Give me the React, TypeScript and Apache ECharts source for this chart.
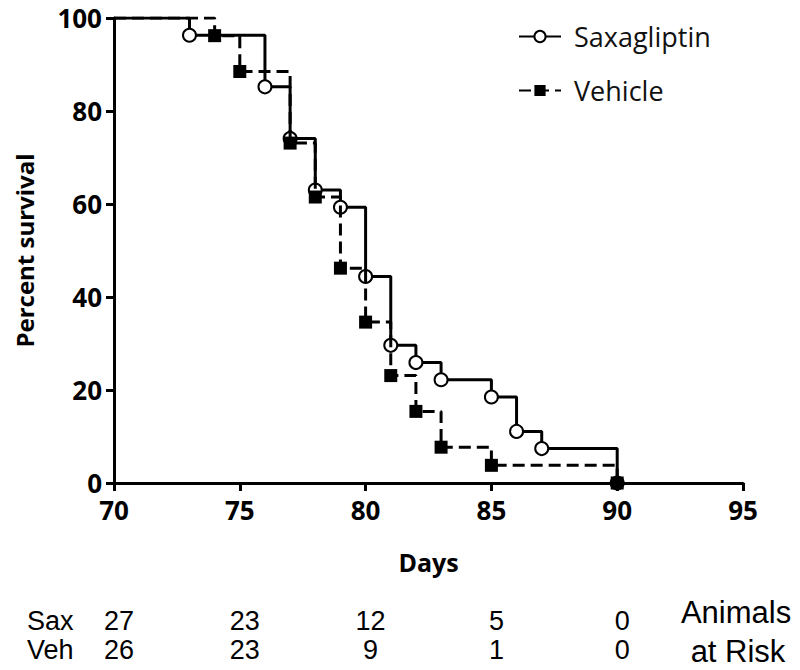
import React, { useEffect, useRef } from "react";
import * as echarts from "echarts";

// Kaplan-Meier survival steps (day, percent survival)
const saxDays = [70, 73, 76, 77, 78, 79, 80, 81, 82, 83, 85, 86, 87, 90];
const saxSurvival = [100, 96.3, 85.2, 74.1, 63.0, 59.3, 44.4, 29.6, 25.9, 22.2, 18.5, 11.1, 7.4, 0];
const vehDays = [70, 74, 75, 77, 78, 79, 80, 81, 82, 83, 85, 90];
const vehSurvival = [100, 96.2, 88.5, 73.1, 61.5, 46.2, 34.6, 23.1, 15.4, 7.7, 3.8, 0];

// Animals at risk table
const riskDays = [70, 75, 80, 85, 90];
const saxAtRisk = [27, 23, 12, 5, 0];
const vehAtRisk = [26, 23, 9, 1, 0];
const riskRowLabels = ["Sax", "Veh"];
const riskTitle = ["Animals", "at Risk"];

const seriesNames = ["Saxagliptin", "Vehicle"];
const xAxisTitle = "Days";
const yAxisTitle = "Percent survival";

const BOLD_FONT = "'Open Sans', 'Liberation Sans', sans-serif";
const TABLE_FONT = "'Liberation Sans', Arial, sans-serif";

function toData(days: number[], vals: number[]) {
  return days.map((d, i) =>
    i === 0 ? { value: [d, vals[i]], symbol: "none" } : { value: [d, vals[i]] }
  );
}

export default function App() {
  const ref = useRef<HTMLDivElement>(null);
  useEffect(() => {
    if (!ref.current) return;
    const chart = echarts.init(ref.current, undefined, { renderer: "svg" });
    const axisLine = { show: true, lineStyle: { color: "#000", width: 3 } };
    const axisTick = { show: true, length: 8, lineStyle: { color: "#000", width: 3 } };
    chart.setOption({
      animation: false,
      backgroundColor: "#fff",
      grid: { left: 114, top: 18, width: 629, height: 465, containLabel: false },
      legend: {
        orient: "vertical",
        left: 513,
        top: 17,
        itemWidth: 42,
        itemHeight: 14,
        itemGap: 25,
        data: seriesNames,
        textStyle: {
          fontFamily: BOLD_FONT,
          fontSize: 27,
          color: "#111",
          padding: [0, 0, 0, 8],
          lineHeight: 29,
        },
      },
      xAxis: {
        type: "value",
        min: 70,
        max: 95,
        interval: 5,
        name: xAxisTitle,
        nameLocation: "middle",
        nameGap: 66,
        nameTextStyle: { fontFamily: BOLD_FONT, fontSize: 25, fontWeight: "bold", color: "#000" },
        axisLine,
        axisTick,
        splitLine: { show: false },
        axisLabel: { fontFamily: BOLD_FONT, fontSize: 26, fontWeight: "bold", color: "#000", margin: 14 },
      },
      yAxis: {
        type: "value",
        min: 0,
        max: 100,
        interval: 20,
        name: yAxisTitle,
        nameLocation: "middle",
        nameGap: 78,
        nameRotate: 90,
        nameTextStyle: { fontFamily: BOLD_FONT, fontSize: 24, fontWeight: "bold", color: "#000" },
        axisLine,
        axisTick,
        splitLine: { show: false },
        axisLabel: {
          fontFamily: BOLD_FONT,
          fontSize: 26,
          lineHeight: 22,
          fontWeight: "bold",
          color: "#000",
          margin: 12,
        },
      },
      series: [
        {
          name: seriesNames[0],
          type: "line",
          step: "end",
          data: toData(saxDays, saxSurvival),
          symbol: "emptyCircle",
          symbolSize: 13,
          itemStyle: { color: "#000", borderColor: "#222", borderWidth: 1.5 },
          lineStyle: { color: "#000", width: 3, type: "solid" },
          z: 2,
        },
        {
          name: seriesNames[1],
          type: "line",
          step: "end",
          data: toData(vehDays, vehSurvival),
          symbol: "rect",
          symbolSize: 13,
          itemStyle: { color: "#000" },
          lineStyle: { color: "#000", width: 3, type: [12, 6] },
          z: 3,
        },
      ],
    });

    const rowY = [621, 650];
    const rows = [saxAtRisk, vehAtRisk];
    const graphics: any[] = [];
    rows.forEach((vals, r) => {
      graphics.push({
        type: "text",
        x: 27,
        y: rowY[r],
        style: {
          text: riskRowLabels[r],
          fill: "#000",
          fontFamily: TABLE_FONT,
          fontSize: 27,
          align: "left",
          verticalAlign: "middle",
        },
      });
      vals.forEach((v, i) => {
        const px = chart.convertToPixel({ xAxisIndex: 0 }, riskDays[i]) as number;
        graphics.push({
          type: "text",
          x: px + 5,
          y: rowY[r],
          style: {
            text: String(v),
            fill: "#000",
            fontFamily: TABLE_FONT,
            fontSize: 27,
            align: "center",
            verticalAlign: "middle",
          },
        });
      });
    });
    graphics.push({
      type: "text",
      x: 736,
      y: 612,
      style: { text: riskTitle[0], fill: "#000", fontFamily: TABLE_FONT, fontSize: 31, align: "center", verticalAlign: "middle" },
    });
    graphics.push({
      type: "text",
      x: 738,
      y: 651,
      style: { text: riskTitle[1], fill: "#000", fontFamily: TABLE_FONT, fontSize: 31, align: "center", verticalAlign: "middle" },
    });
    chart.setOption({ graphic: graphics });

    return () => chart.dispose();
  }, []);
  return (
    <div
      ref={ref}
      style={{ position: "fixed", left: 0, top: 0, width: 800, height: 670, background: "#fff" }}
    />
  );
}
